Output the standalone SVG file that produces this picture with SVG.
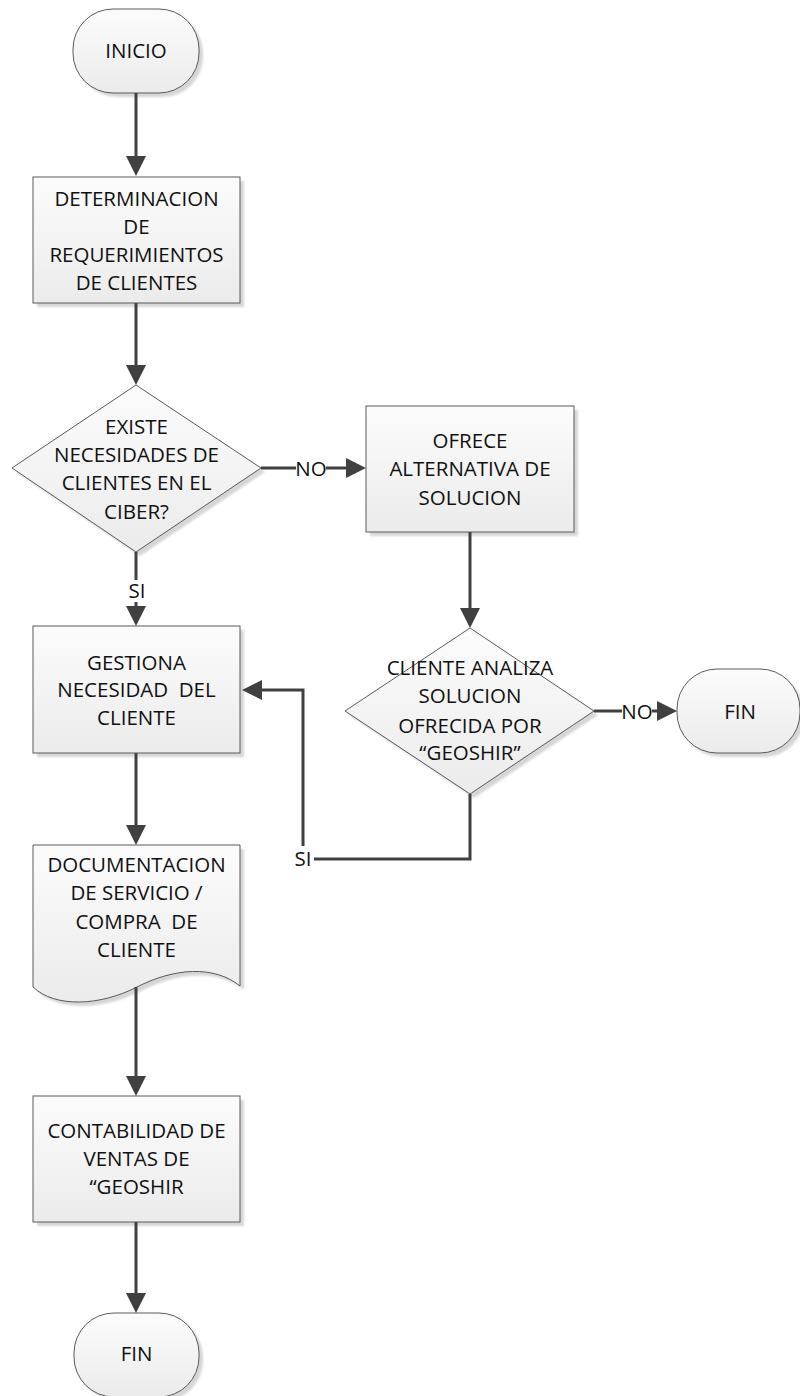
<svg xmlns="http://www.w3.org/2000/svg" xmlns:xlink="http://www.w3.org/1999/xlink" width="800" height="1396" viewBox="0 0 800 1396">
<style>
.shape{fill:url(#g);stroke:#5a5a5a;stroke-width:1}
.sh{fill:#d6d6d6;filter:url(#blur)}
.t{font-family:"Open Sans","Liberation Sans",sans-serif;font-size:20.5px;fill:#111111;text-anchor:middle}
.pre{white-space:pre}
.c{fill:none;stroke:#404040;stroke-width:3}
.lb{fill:#ffffff}
</style>
<defs>
<linearGradient id="g" x1="0" y1="0" x2="0" y2="1">
<stop offset="0" stop-color="#fcfcfc"/>
<stop offset="1" stop-color="#ebebeb"/>
</linearGradient>
<filter id="blur" x="-10%" y="-10%" width="120%" height="120%"><feGaussianBlur stdDeviation="1"/></filter>
<marker id="arr" markerWidth="20" markerHeight="20" refX="10" refY="10" orient="auto" markerUnits="userSpaceOnUse">
<path d="M0,0 L20,10 L0,20 Z" fill="#404040"/>
</marker>
</defs>

<g id="n-inicio">
<rect class="sh" x="77" y="13" width="126" height="84" rx="40"/>
<rect class="shape" x="73" y="9" width="126" height="84" rx="40"/>
<text class="t" x="136" y="58">INICIO</text>
</g>

<g id="n-determinacion">
<rect class="sh" x="37" y="181" width="207" height="126"/>
<rect class="shape" x="33" y="177" width="207" height="126"/>
<text class="t" x="136.5" y="206">DETERMINACION</text>
<text class="t" x="136.5" y="234">DE</text>
<text class="t" x="136.5" y="262">REQUERIMIENTOS</text>
<text class="t" x="136.5" y="290">DE CLIENTES</text>
</g>

<g id="n-existe">
<polygon class="sh" points="140,389 265,472 140,556 16,472"/>
<polygon class="shape" points="136,385 261,468 136,552 12,468"/>
<text class="t" x="136.5" y="434">EXISTE</text>
<text class="t" x="136.5" y="462">NECESIDADES DE</text>
<text class="t" x="136.5" y="490">CLIENTES EN EL</text>
<text class="t" x="136.5" y="519">CIBER?</text>
</g>

<g id="n-ofrece">
<rect class="sh" x="370" y="410" width="208" height="126"/>
<rect class="shape" x="366" y="406" width="208" height="126"/>
<text class="t" x="470" y="448">OFRECE</text>
<text class="t" x="470" y="476">ALTERNATIVA DE</text>
<text class="t" x="470" y="505">SOLUCION</text>
</g>

<g id="n-analiza">
<polygon class="sh" points="474,632 598,715 474,798 349,715"/>
<polygon class="shape" points="470,628 594,711 470,794 345,711"/>
<text class="t" x="470" y="675">CLIENTE ANALIZA</text>
<text class="t" x="470" y="703">SOLUCION</text>
<text class="t" x="470" y="733">OFRECIDA POR</text>
<text class="t" x="470" y="760">“GEOSHIR”</text>
</g>

<g id="n-fin1">
<rect class="sh" x="681" y="673" width="123" height="84" rx="40"/>
<rect class="shape" x="677" y="669" width="123" height="84" rx="40"/>
<text class="t" x="740" y="719">FIN</text>
</g>

<g id="n-gestiona">
<rect class="sh" x="37" y="630" width="207" height="127"/>
<rect class="shape" x="33" y="626" width="207" height="127"/>
<text class="t" x="136.5" y="670">GESTIONA</text>
<text class="t pre" x="136.5" y="697">NECESIDAD  DEL</text>
<text class="t" x="136.5" y="725">CLIENTE</text>
</g>

<g id="n-documentacion">
<path class="sh" transform="translate(4,4)" d="M33,845 H240 V986 C214,965 174,968 137,987 C100,1006 55,1008 33,987 Z"/>
<path class="shape" d="M33,845 H240 V986 C214,965 174,968 137,987 C100,1006 55,1008 33,987 Z"/>
<text class="t" x="136.5" y="872">DOCUMENTACION</text>
<text class="t" x="136.5" y="900">DE SERVICIO /</text>
<text class="t pre" x="136.5" y="929">COMPRA  DE</text>
<text class="t" x="136.5" y="957">CLIENTE</text>
</g>

<g id="n-contabilidad">
<rect class="sh" x="37" y="1100" width="207" height="126"/>
<rect class="shape" x="33" y="1096" width="207" height="126"/>
<text class="t" x="136.5" y="1138">CONTABILIDAD DE</text>
<text class="t" x="136.5" y="1166">VENTAS DE</text>
<text class="t" x="136.5" y="1194">“GEOSHIR</text>
</g>

<g id="n-fin2">
<rect class="sh" x="78" y="1317" width="125" height="84" rx="40"/>
<rect class="shape" x="74" y="1313" width="125" height="84" rx="40"/>
<text class="t" x="136.5" y="1361">FIN</text>
</g>

<g id="connectors">
<path class="c" d="M136,93 V166" marker-end="url(#arr)"/>
<path class="c" d="M136,303 V375" marker-end="url(#arr)"/>
<path class="c" d="M261,468 H356" marker-end="url(#arr)"/>
<rect class="lb" x="296" y="457" width="30" height="22"/>
<text class="t" x="311" y="476">NO</text>
<path class="c" d="M136,552 V616" marker-end="url(#arr)"/>
<rect class="lb" x="126" y="580" width="22" height="22"/>
<text class="t" x="137" y="598">SI</text>
<path class="c" d="M470,532 V618" marker-end="url(#arr)"/>
<path class="c" d="M594,711 H667" marker-end="url(#arr)"/>
<rect class="lb" x="622" y="700" width="30" height="22"/>
<text class="t" x="637" y="719">NO</text>
<path class="c" d="M136,753 V835" marker-end="url(#arr)"/>
<path class="c" d="M136,987 V1086" marker-end="url(#arr)"/>
<path class="c" d="M136,1222 V1303" marker-end="url(#arr)"/>
<path class="c" d="M470,794 V859 H303 V690 H252" marker-end="url(#arr)"/>
<rect class="lb" x="292" y="846" width="22" height="24"/>
<text class="t" x="303" y="866">SI</text>
</g>
</svg>
